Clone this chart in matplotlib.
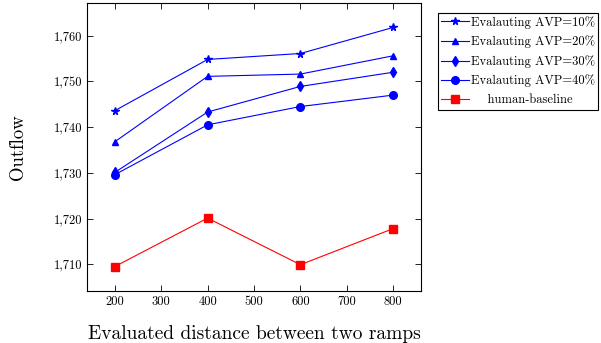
import matplotlib
matplotlib.use('Agg')
import matplotlib.pyplot as plt
from matplotlib.ticker import FuncFormatter

# dados
distancias = [200, 400, 600, 800]
avp10 = [1743.6, 1754.8, 1756.1, 1761.8]
avp20 = [1736.8, 1751.1, 1751.6, 1755.6]
avp30 = [1730.1, 1743.3, 1748.9, 1752.0]
avp40 = [1729.6, 1740.5, 1744.5, 1747.0]
humano = [1709.5, 1720.1, 1709.9, 1717.8]

rotulos = ['Evalauting AVP=10%', 'Evalauting AVP=20%', 'Evalauting AVP=30%',
           'Evalauting AVP=40%', '    human-baseline']

plt.rcParams['font.family'] = 'cmr10'
plt.rcParams['mathtext.fontset'] = 'cm'
plt.rcParams['axes.unicode_minus'] = False

fig = plt.figure(figsize=(6.01, 3.43), dpi=100)
ax = fig.add_axes([0.1448, 0.1516, 0.5557, 0.8397])

ax.plot(distancias, avp10, color='blue', marker='*', markersize=5.5, lw=0.8, label=rotulos[0])
ax.plot(distancias, avp20, color='blue', marker='^', markersize=5, lw=0.8, label=rotulos[1])
ax.plot(distancias, avp30, color='blue', marker='d', markersize=5, lw=0.8, label=rotulos[2])
ax.plot(distancias, avp40, color='blue', marker='o', markersize=5.5, lw=0.8, label=rotulos[3])
ax.plot(distancias, humano, color='red', marker='s', markersize=5.5, lw=0.8, label=rotulos[4])

ax.set_xlim(140, 860)
ax.set_ylim(1704.15, 1767.15)
ax.set_xticks([200, 300, 400, 500, 600, 700, 800])
ax.set_yticks([1710, 1720, 1730, 1740, 1750, 1760])
ax.yaxis.set_major_formatter(FuncFormatter(lambda v, p: f'{v:,.0f}'))
ax.tick_params(direction='in', top=True, right=True, labelsize=9, length=4, width=0.6)
for s in ax.spines.values():
    s.set_linewidth(0.8)

ax.set_xlabel('Evaluated distance between two ramps', fontsize=14, labelpad=12)
ax.set_ylabel('Outflow', fontsize=13.5, labelpad=19)

leg = fig.legend(loc='upper left', bbox_to_anchor=(0.7288, 0.962), fontsize=9,
                 fancybox=False, edgecolor='black', framealpha=1,
                 handlelength=2.2, handletextpad=0.15, borderpad=0.25,
                 labelspacing=0.55, borderaxespad=0)
leg.get_frame().set_linewidth(0.8)

fig.savefig('out.png', dpi=100)
